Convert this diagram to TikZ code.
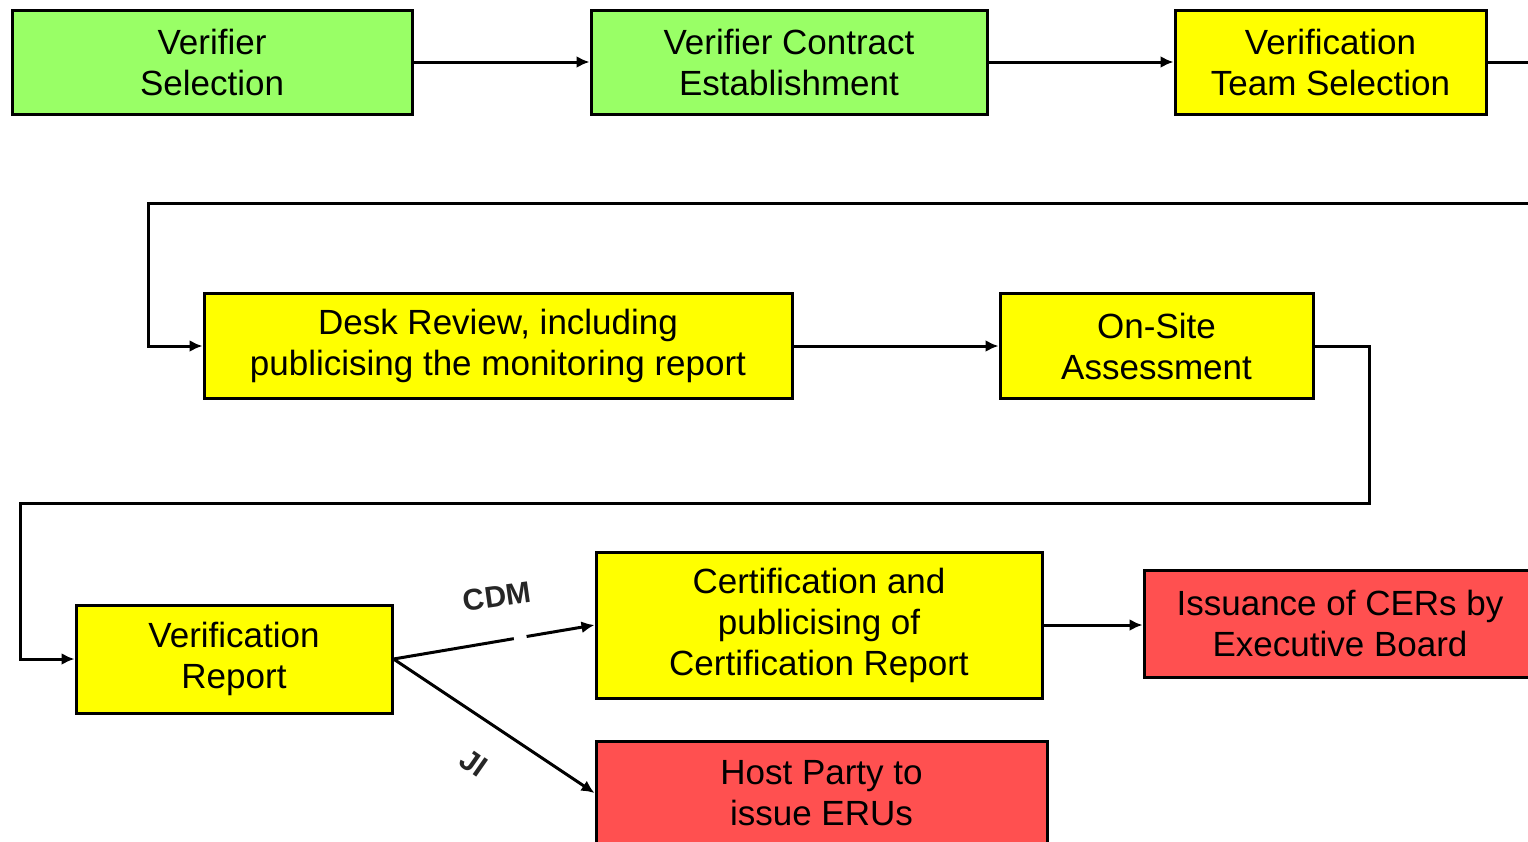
\documentclass[tikz,border=0pt]{standalone}
\usepackage{fontspec}
\setmainfont{Liberation Sans}
\usetikzlibrary{arrows.meta}
\definecolor{boxgreen}{HTML}{99FF66}
\definecolor{boxyellow}{HTML}{FFFF00}
\definecolor{boxred}{HTML}{FF5050}
\tikzset{
  boxbase/.style={draw=black, line width=3pt, rectangle, align=center, inner sep=0pt,
    font=\fontsize{35}{41}\selectfont},
  gbox/.style={boxbase, fill=boxgreen},
  ybox/.style={boxbase, fill=boxyellow},
  rbox/.style={boxbase, fill=boxred},
  conn/.style={line width=3pt, -{Latex[length=13pt,width=12pt]}},
  plain/.style={line width=3pt},
  lbl/.style={font=\bfseries\fontsize{30}{34}\selectfont, text=black!85, inner sep=1pt}
}
\begin{document}
\begin{tikzpicture}[x=1pt,y=-1pt]
\useasboundingbox (0,0) rectangle (1528,841);
\clip (0,0) rectangle (1528,841);
\node[gbox, minimum width=400pt, minimum height=104pt] (vs) at (212,62) {Verifier\\Selection};
\node[gbox, minimum width=396pt, minimum height=104pt] (vce) at (789,62) {Verifier Contract\\Establishment};
\node[ybox, minimum width=311pt, minimum height=104pt] (vts) at (1330.5,62) {Verification\\Team Selection};
\node[ybox, minimum width=588pt, minimum height=105pt] (dr) at (498,346) {Desk Review, including\\publicising the monitoring report};
\node[ybox, minimum width=313pt, minimum height=105pt] (osa) at (1156.5,346) {On-Site\\Assessment};
\node[ybox, minimum width=316pt, minimum height=108pt] (vr) at (234,659) {Verification\\Report};
\node[ybox, minimum width=446pt, minimum height=146pt] (cert) at (819,625) {Certification and\\publicising of\\Certification Report};
\node[rbox, minimum width=392pt, minimum height=107pt] (iss) at (1340,623.5) {Issuance of CERs by\\Executive Board};
\node[rbox, minimum width=451pt, minimum height=104pt] (hp) at (821.5,793) {Host Party to\\issue ERUs};

\coordinate (outA) at (1530,62);
\coordinate (inB) at (1530,203);

\draw[conn] (vs.east) -- (vce.west);
\draw[conn] (vce.east) -- (vts.west);
\draw[plain] (vts.east) -- (outA);
\draw[conn] (inB) -- (148,203) |- (dr.west);
\draw[conn] (dr.east) -- (osa.west);
\draw[conn] (osa.east) -| (1369,503) -- (20,503) |- (vr.west);
\draw[conn, dash pattern=on 122pt off 13pt on 200pt] (vr.east) -- (cert.west);
\draw[conn] (vr.east) -- (hp.west);
\draw[conn] (cert.east) -- (cert.east -| iss.west);

\node[lbl, rotate=8] (cdm) at (497,597) {CDM};
\node[lbl, rotate=-35] (ji) at (474,763) {JI};
\end{tikzpicture}
\end{document}
